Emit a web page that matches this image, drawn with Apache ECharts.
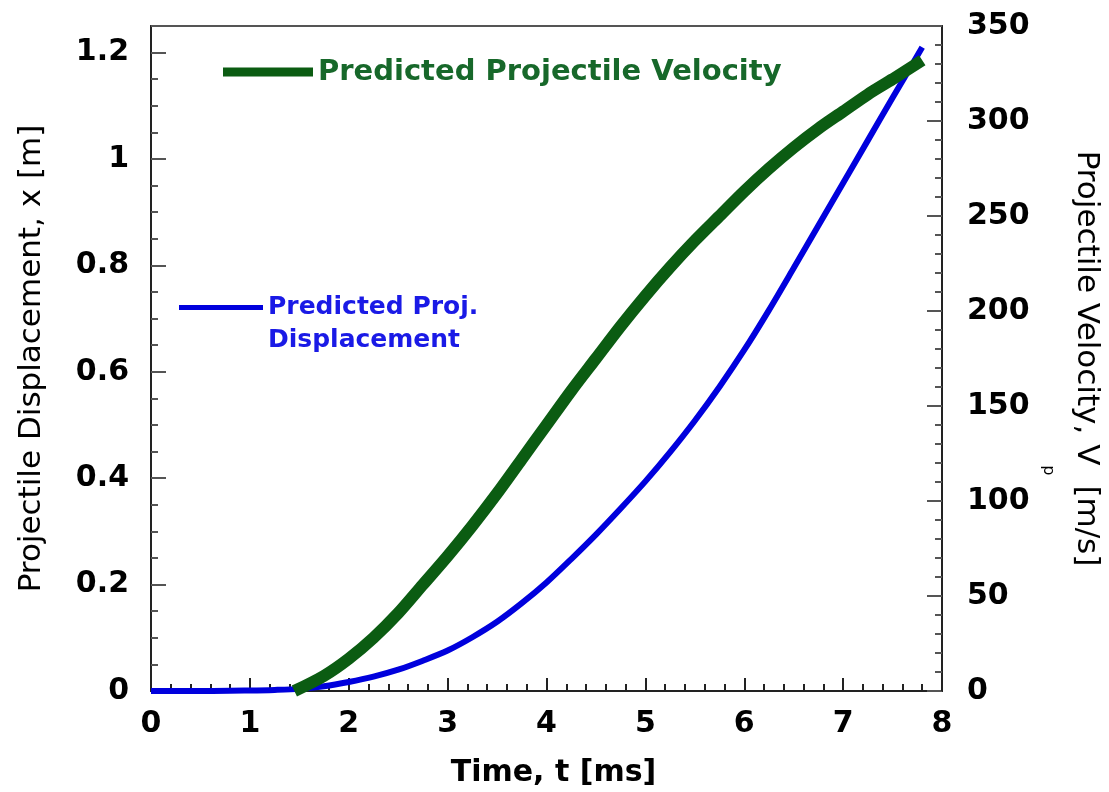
<!DOCTYPE html>
<html>
<head>
<meta charset="utf-8">
<script src="https://cdn.jsdelivr.net/npm/echarts@6/dist/echarts.min.js"></script>
<style>
html,body{margin:0;padding:0;background:#fff;}
#chart{width:1109px;height:792px;}
</style>
</head>
<body>
<div id="chart"></div>
<script>
// Time samples [ms] for displacement curve
const timeDisp = [0,0.5,1.0,1.25,1.5,1.75,2.0,2.25,2.5,2.75,3.0,3.25,3.5,3.75,4.0,4.25,4.5,4.75,5.0,5.25,5.5,5.75,6.0,6.25,6.5,6.75,7.0,7.25,7.5,7.8];
// Predicted projectile displacement [m]
const displacement = [0,0,0.001,0.002,0.004,0.009,0.017,0.027,0.040,0.057,0.076,0.101,0.130,0.165,0.204,0.248,0.294,0.343,0.394,0.449,0.508,0.572,0.641,0.716,0.795,0.875,0.955,1.035,1.115,1.21];
// Time samples [ms] for velocity curve
const timeVel = [1.45,1.75,2.0,2.25,2.5,2.75,3.0,3.25,3.5,3.75,4.0,4.25,4.5,4.75,5.0,5.25,5.5,5.75,6.0,6.25,6.5,6.75,7.0,7.25,7.5,7.8];
// Predicted projectile velocity [m/s]
const velocity = [0,8,17,28,41,56,71,87,104,122,140,158,175,192,208,223,237,250,263,275,286,296,305,314,322,332];

const nameDisp = 'Predicted Proj.\nDisplacement';
const nameVel = 'Predicted Projectile Velocity';

const FONT = 'DejaVu Sans';
const chart = echarts.init(document.getElementById('chart'), null, {renderer:'canvas'});

const dispData = timeDisp.map((t,i)=>[t, displacement[i]]);
const velData = timeVel.map((t,i)=>[t, velocity[i]]);

const tickLabel = {fontFamily: FONT, fontWeight: 'bold', fontSize: 30, color: '#000'};

chart.setOption({
  animation: false,
  backgroundColor: '#fff',
  grid: {left:151, right:167, top:26, bottom:101, show:true, borderColor:'#555', borderWidth:2, containLabel:false, outerBoundsMode:'none'},
  legend: [
    {
      data:[nameVel], left:223, top:57, padding:0, selectedMode:false,
      icon:'rect', itemWidth:90, itemHeight:9, itemGap:6,
      textStyle:{fontFamily:FONT, fontWeight:'bold', fontSize:29, lineHeight:30, color:'#17682a'}
    },
    {
      data:[nameDisp], left:179, top:258, padding:0, selectedMode:false,
      icon:'rect', itemWidth:84, itemHeight:5,
      formatter: n => ' \n' + n,
      textStyle:{fontFamily:FONT, fontWeight:'bold', fontSize:25, lineHeight:33, color:'#1a1ae6'}
    }
  ],
  xAxis: {
    type:'value', min:0, max:8, interval:1,
    name:'Time, t [ms]', nameLocation:'middle', nameGap:67,
    nameTextStyle:{fontFamily:FONT, fontWeight:'bold', fontSize:30, color:'#000', padding:[0,0,0,14]},
    axisLine:{show:true, onZero:false, lineStyle:{color:'#222', width:2}},
    axisTick:{show:true, inside:true, length:13, lineStyle:{color:'#222', width:2}},
    minorTick:{show:true, splitNumber:5, length:7, lineStyle:{color:'#222', width:2}},
    axisLabel:{...tickLabel, margin:18},
    splitLine:{show:false}
  },
  yAxis: [
    {
      type:'value', position:'left', min:0, max:1.25, interval:0.2,
      name:'Projectile Displacement, x [m]', nameLocation:'middle', nameGap:104, nameRotate:90,
      nameTextStyle:{fontFamily:FONT, fontSize:31, color:'#000'},
      axisLine:{show:true, onZero:false, lineStyle:{color:'#222', width:2}},
      axisTick:{show:true, inside:true, length:15, lineStyle:{color:'#555', width:2}},
      axisLabel:{...tickLabel, margin:22, showMaxLabel:false,
        formatter: v => (Math.abs(v/0.2 - Math.round(v/0.2)) < 1e-6 ? String(+v.toFixed(2)) : '')},
      splitLine:{show:false}
    },
    {
      type:'value', position:'right', min:0, max:350, interval:50,
      name:'{a|Projectile Velocity, V}{s|p}{a| [m/s]}', nameLocation:'middle', nameGap:101, nameRotate:-90,
      nameTextStyle:{fontFamily:FONT, fontSize:31, color:'#000',
        rich:{
          a:{fontFamily:FONT, fontSize:31, lineHeight:31, color:'#000', verticalAlign:'top'},
          s:{fontFamily:FONT, fontSize:16, lineHeight:16, color:'#000', verticalAlign:'top', padding:[45,0,0,0]}
        }},
      axisLine:{show:true, onZero:false, lineStyle:{color:'#222', width:2}},
      axisTick:{show:true, inside:true, length:15, lineStyle:{color:'#555', width:2}},
      minorTick:{show:true, splitNumber:5, length:7, lineStyle:{color:'#555', width:2}},
      axisLabel:{...tickLabel, margin:25},
      splitLine:{show:false}
    },
    {
      type:'value', position:'left', min:0, max:1.25, interval:0.05,
      axisLine:{show:false}, axisLabel:{show:false},
      axisTick:{show:true, inside:true, length:7, lineStyle:{color:'#555', width:2}},
      splitLine:{show:false}
    }
  ],
  series: [
    {
      name:nameDisp, type:'line', xAxisIndex:0, yAxisIndex:0, data:dispData,
      showSymbol:false, smooth:0.3, color:'#0000dd',
      lineStyle:{color:'#0000dd', width:6}, z:2
    },
    {
      name:nameVel, type:'line', xAxisIndex:0, yAxisIndex:1, data:velData,
      showSymbol:false, smooth:0.3, color:'#0b5c12',
      lineStyle:{color:'#0b5c12', width:12}, z:3
    }
  ]
});
</script>
</body>
</html>
